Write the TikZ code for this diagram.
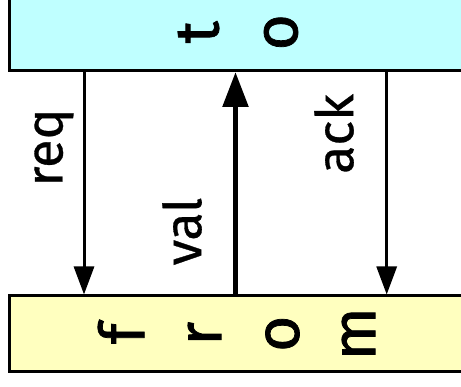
\documentclass[tikz,border=0pt]{standalone}
\usepackage{fontspec}
\setmainfont{Fira Sans}
\newfontfamily\heavyfont{Fira Sans}[FakeBold=1.2]
\newfontfamily\medfont{Fira Sans}[FakeBold=0.6]
\usetikzlibrary{arrows.meta}
\definecolor{tofill}{RGB}{191,255,255}
\definecolor{fromfill}{RGB}{255,255,191}
\newcommand\vlet[1]{\makebox[0pt]{$\vcenter{\hbox{\rotatebox{90}{#1}}}$}}
\begin{document}
\begin{tikzpicture}[x=1pt,y=1pt,
  box/.style={draw=black, line width=3pt, inner sep=0pt, minimum width=460.5pt,
    font=\heavyfont\fontsize{62}{62}\selectfont},
  lbl/.style={font=\medfont\fontsize{52}{52}\selectfont, rotate=90, inner sep=0pt},
  thinarrow/.style={line width=3pt, -{Triangle[length=28pt,width=20pt]}},
  thickarrow/.style={line width=5.5pt, -{Triangle[length=35pt,width=25pt]}}]
\useasboundingbox (0,0) rectangle (461,387);
\clip (0,0) rectangle (461,387);
\node[box, fill=tofill, minimum height=76.5pt] (to) at (239.75,354.75)
  {\vlet{t}\hspace{82.5pt}\vlet{o}\hspace{5.5pt}};
\node[box, fill=fromfill, minimum height=75.5pt] (from) at (239.75,53.25)
  {\vlet{f}\hspace{83.5pt}\vlet{r}\hspace{78pt}\vlet{o}\hspace{76pt}\vlet{m}\hspace{9.5pt}};
\coordinate (xreq) at (84,0);
\coordinate (xval) at (235.5,0);
\coordinate (xack) at (386.7,0);
\draw[thinarrow] (to.south -| xreq) -- (from.north -| xreq);
\draw[thickarrow] (from.north -| xval) -- (to.south -| xval);
\draw[thinarrow] (to.south -| xack) -- (from.north -| xack);
\node[lbl] (lreq) at (54,239.5) {req};
\node[lbl] (lval) at (182,155.5) {val};
\node[lbl] (lack) at (334,253) {ack};
\end{tikzpicture}
\end{document}
